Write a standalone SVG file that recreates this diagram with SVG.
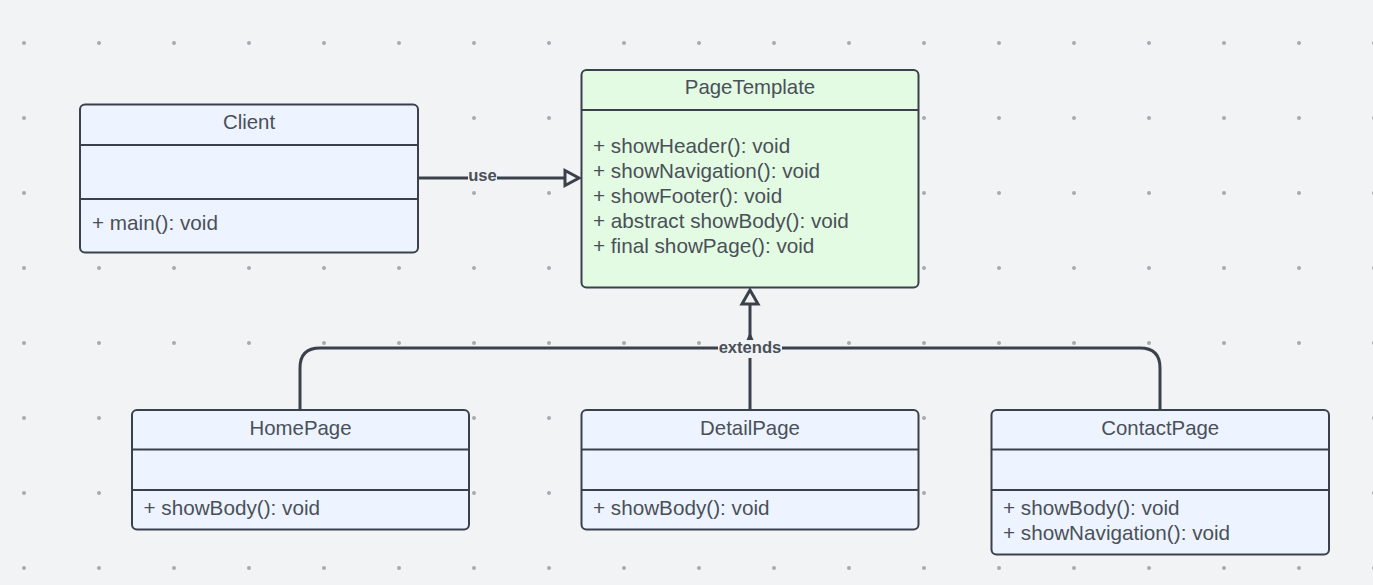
<svg xmlns="http://www.w3.org/2000/svg" width="1373" height="585" viewBox="0 0 1373 585">
<defs>
<pattern id="dots" x="0" y="0" width="75" height="75" patternUnits="userSpaceOnUse">
<circle cx="24" cy="43" r="2" fill="#a9aaae"/>
</pattern>
<style>
.box{stroke:#3a414a;stroke-width:2}
.blue{fill:#edf4ff}
.green{fill:#e3fae3}
.sep{stroke:#3a414a;stroke-width:2}
.t{font-family:"Liberation Sans",Arial,sans-serif;font-size:20.7px;fill:#4a5058}
.title{text-anchor:middle;font-size:20.4px}
.conn{fill:none;stroke:#3a414a;stroke-width:3}
.head{fill:#f2f3f5;stroke:#3a414a;stroke-width:3;stroke-linejoin:miter}
.lbl{font-family:"Liberation Sans",Arial,sans-serif;font-size:16.6px;font-weight:bold;fill:#4a5058;text-anchor:middle}
.lblbg{fill:#f2f3f5}
</style>
</defs>
<rect width="1373" height="585" fill="#f2f3f5"/>
<rect width="1373" height="585" fill="url(#dots)"/>

<g id="connectors">
<g id="use">
<path class="conn" d="M418,178 H565"/>
<polygon class="head" points="579,178 565,170.5 565,185.5"/>
<rect class="lblbg" x="468" y="169" width="29" height="18"/>
<text class="lbl" x="482.5" y="181">use</text>
</g>
<g id="extends">
<path class="conn" d="M300,410 V368 Q300,348 320,348 H1140 Q1160,348 1160,368 V410"/>
<path class="conn" d="M750,410 V304"/>
<polygon class="head" points="750,290 742,304 758,304"/>
<polygon points="750,332 746.5,340 753.5,340" fill="#3a414a"/>
<rect class="lblbg" x="718" y="340" width="64" height="18"/>
<text class="lbl" x="750" y="353">extends</text>
</g>
</g>

<g id="Client">
<rect class="box blue" x="80" y="104.5" width="338" height="148" rx="5"/>
<line class="sep" x1="80" y1="145" x2="418" y2="145"/>
<line class="sep" x1="80" y1="199" x2="418" y2="199"/>
<text class="t title" x="249" y="129">Client</text>
<text class="t" x="92" y="230">+ main(): void</text>
</g>

<g id="PageTemplate">
<rect class="box green" x="581.5" y="70" width="337" height="217.5" rx="5"/>
<line class="sep" x1="581.5" y1="110" x2="918.5" y2="110"/>
<text class="t title" x="750" y="94">PageTemplate</text>
<text class="t" x="593" y="153">+ showHeader(): void</text>
<text class="t" x="593" y="178">+ showNavigation(): void</text>
<text class="t" x="593" y="203">+ showFooter(): void</text>
<text class="t" x="593" y="228">+ abstract showBody(): void</text>
<text class="t" x="593" y="253">+ final showPage(): void</text>
</g>

<g id="HomePage">
<rect class="box blue" x="132" y="410" width="337" height="119.5" rx="5"/>
<line class="sep" x1="132" y1="449.5" x2="469" y2="449.5"/>
<line class="sep" x1="132" y1="490" x2="469" y2="490"/>
<text class="t title" x="300.5" y="434.5">HomePage</text>
<text class="t" x="143.5" y="514.5">+ showBody(): void</text>
</g>

<g id="DetailPage">
<rect class="box blue" x="581.5" y="410" width="337" height="119.5" rx="5"/>
<line class="sep" x1="581.5" y1="449.5" x2="918.5" y2="449.5"/>
<line class="sep" x1="581.5" y1="490" x2="918.5" y2="490"/>
<text class="t title" x="750" y="434.5">DetailPage</text>
<text class="t" x="593" y="514.5">+ showBody(): void</text>
</g>

<g id="ContactPage">
<rect class="box blue" x="991.5" y="410" width="337.5" height="144.5" rx="5"/>
<line class="sep" x1="991.5" y1="449.5" x2="1329" y2="449.5"/>
<line class="sep" x1="991.5" y1="490" x2="1329" y2="490"/>
<text class="t title" x="1160.25" y="434.5">ContactPage</text>
<text class="t" x="1003" y="514.5">+ showBody(): void</text>
<text class="t" x="1003" y="539.5">+ showNavigation(): void</text>
</g>
</svg>
